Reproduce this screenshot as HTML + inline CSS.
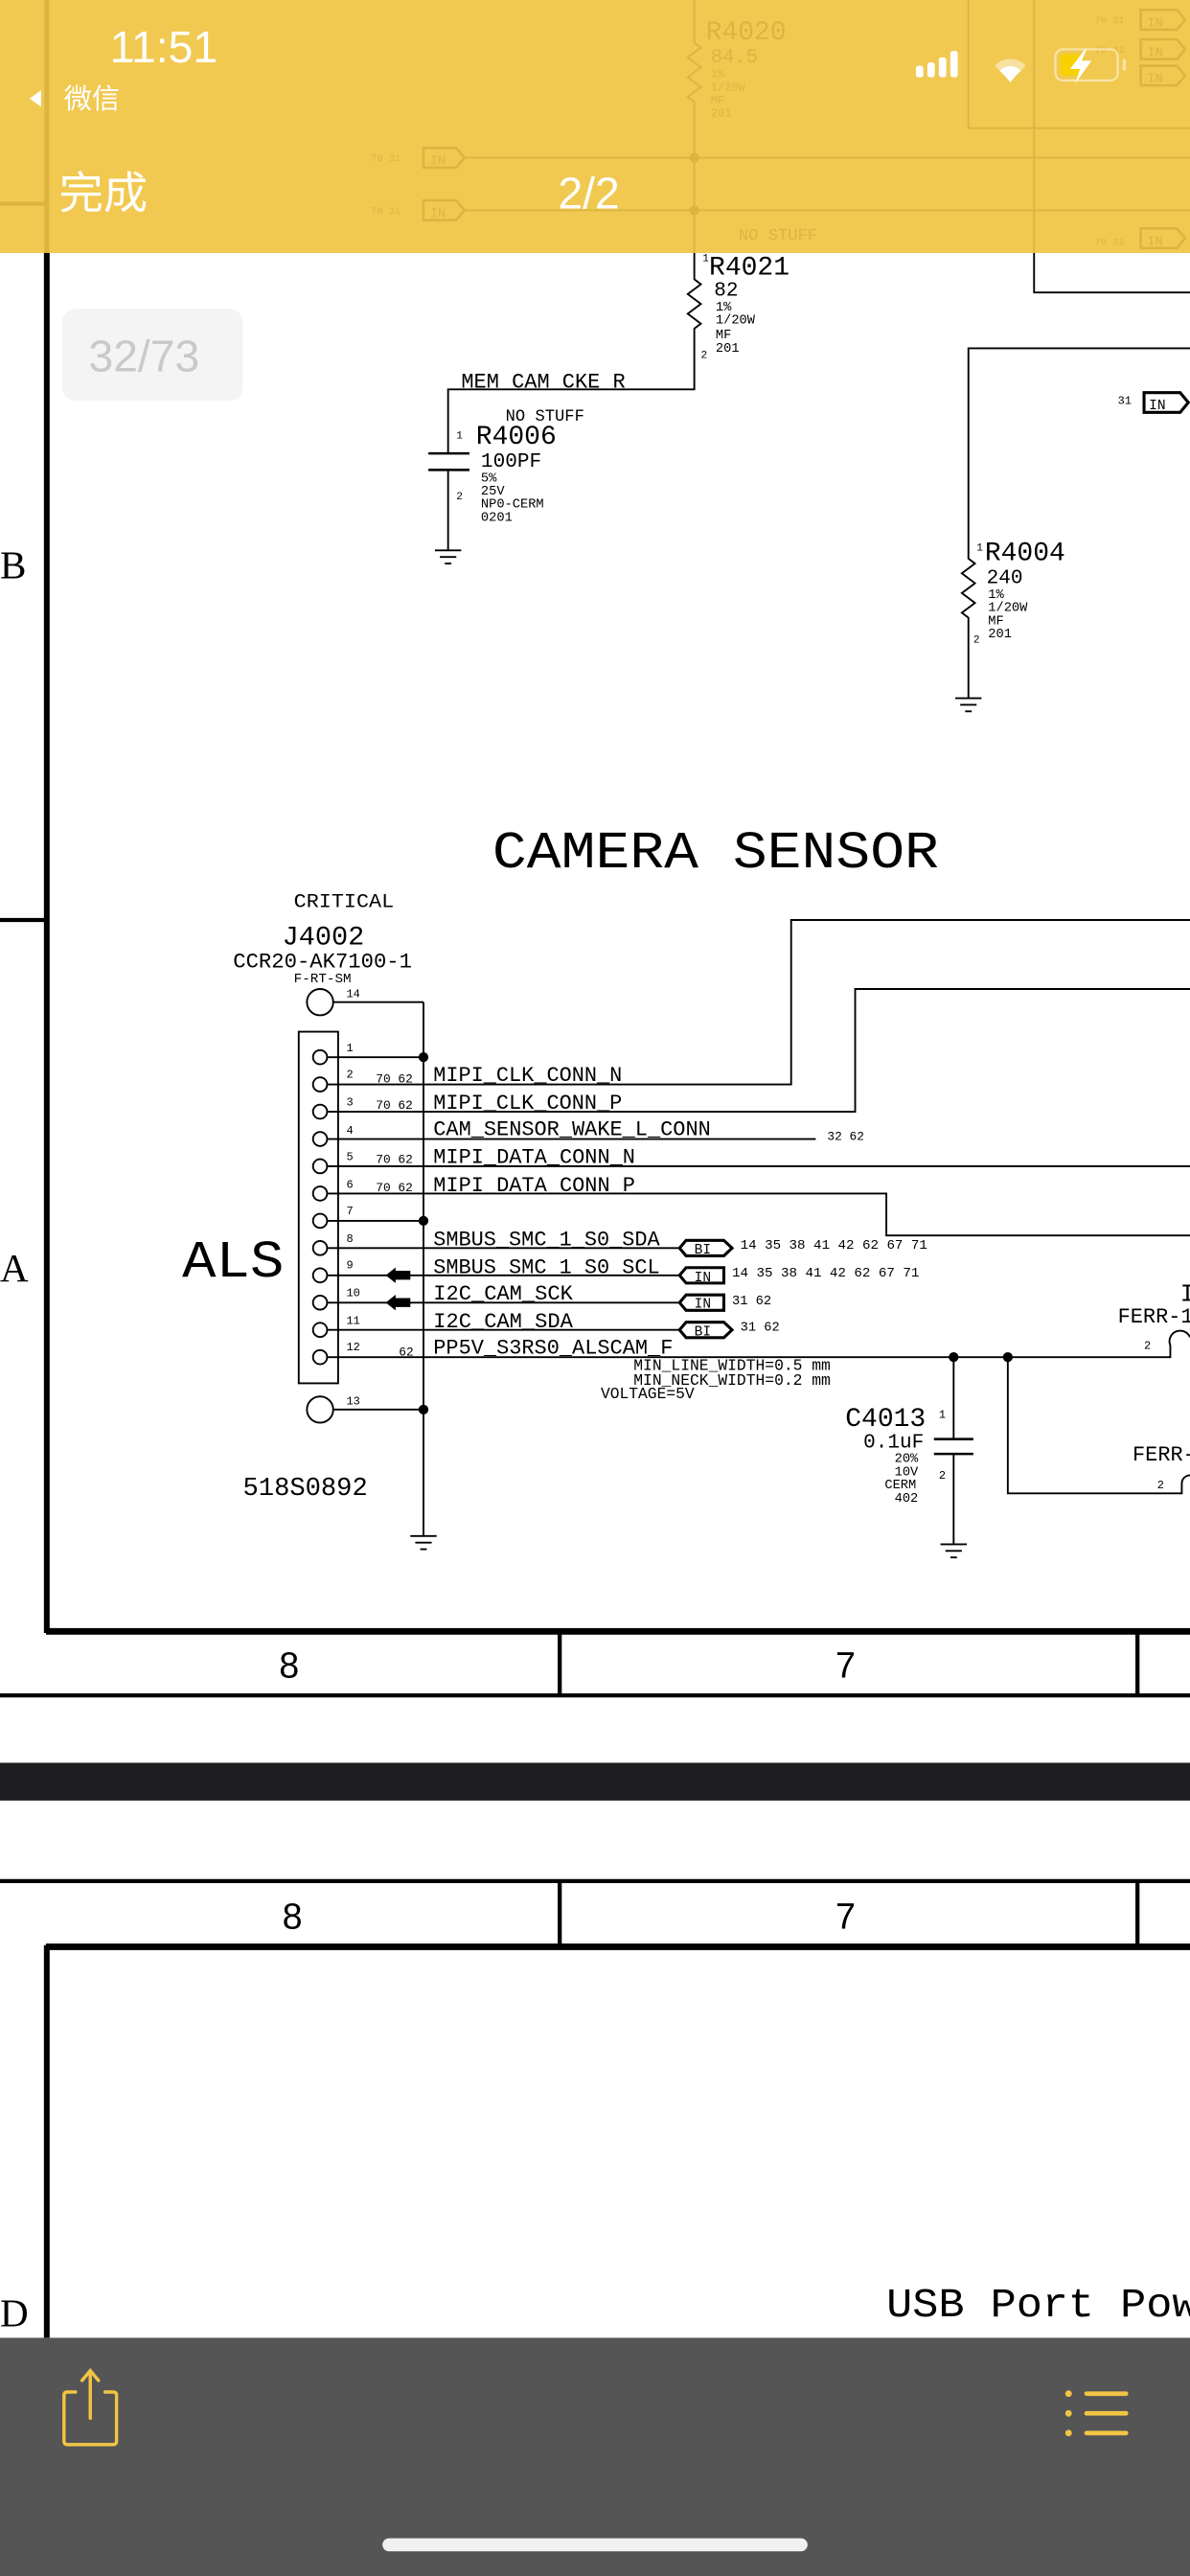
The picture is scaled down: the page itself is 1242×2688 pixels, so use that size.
<!DOCTYPE html>
<html><head><meta charset="utf-8"><style>
html,body{margin:0;padding:0;background:#fff;}
svg{display:block;}
</style></head><body>
<svg width="1242" height="2688" viewBox="0 0 725 1568" preserveAspectRatio="none" xmlns="http://www.w3.org/2000/svg" font-family="'Liberation Mono', monospace">
<rect x="0" y="0" width="725" height="1568" fill="#fff"/>

<g stroke="#000" stroke-width="1.1" fill="none">
  <line x1="28.5" y1="0" x2="28.5" y2="994" stroke-width="3.5"/>
  <line x1="0" y1="560" x2="28" y2="560" stroke-width="2.5"/>
  <line x1="28" y1="993" x2="725" y2="993" stroke-width="4"/>
  <line x1="0" y1="1032" x2="725" y2="1032" stroke-width="2.5"/>
  <line x1="341" y1="993" x2="341" y2="1032" stroke-width="2.5"/>
  <line x1="693" y1="993" x2="693" y2="1032" stroke-width="2.5"/>
  <polyline points="423,150 423,170 427,173 419,179 427,185 419,191 427,197 423,200 423,237 273,237 273,276"/>
  <line x1="261" y1="276" x2="286" y2="276" stroke-width="1.5"/>
  <line x1="261" y1="286" x2="286" y2="286" stroke-width="1.5"/>
  <polyline points="273,286 273,335"/>
  <line x1="265" y1="335" x2="281" y2="335"/><line x1="268" y1="339" x2="278" y2="339"/><line x1="271" y1="343" x2="275" y2="343"/>
  <polyline points="630,150 630,178 725,178"/>
  <polyline points="725,212 590,212 590,340 594,343 586,349 594,355 586,361 594,367 586,373 590,376 590,425"/>
  <line x1="582" y1="425" x2="598" y2="425"/><line x1="585" y1="429" x2="595" y2="429"/><line x1="588" y1="433" x2="592" y2="433"/>
</g>
<g stroke="#000" stroke-width="1.8" fill="#fff">
  <polygon points="697,239 719,239 724,245 719,251 697,251"/>
</g>
<text x="700" y="249" font-size="8.5" fill="#000">IN</text>
<text x="681" y="246" font-size="7" fill="#000">31</text>

<g fill="#000">
<text x="428" y="159" font-size="6.5">1</text>
<text x="432" y="167" font-size="16" textLength="49" lengthAdjust="spacingAndGlyphs">R4021</text>
<text x="435" y="180" font-size="12.3">82</text>
<text x="436" y="189" font-size="8">1%</text>
<text x="436" y="197" font-size="8">1/20W</text>
<text x="436" y="206" font-size="8">MF</text>
<text x="436" y="214" font-size="8">201</text>
<text x="427" y="218" font-size="6.5">2</text>
<text x="281" y="236" font-size="12.8" textLength="100" lengthAdjust="spacingAndGlyphs">MEM_CAM_CKE_R</text>
<text x="308" y="256" font-size="10" textLength="48" lengthAdjust="spacingAndGlyphs">NO STUFF</text>
<text x="278" y="267" font-size="6.5">1</text>
<text x="290" y="270" font-size="16" textLength="49" lengthAdjust="spacingAndGlyphs">R4006</text>
<text x="293" y="284" font-size="12.3">100PF</text>
<text x="293" y="293" font-size="8">5%</text>
<text x="293" y="301" font-size="8">25V</text>
<text x="293" y="309" font-size="8">NP0-CERM</text>
<text x="293" y="317" font-size="8">0201</text>
<text x="278" y="304" font-size="6.5">2</text>
<text x="595" y="335" font-size="6.5">1</text>
<text x="600" y="341" font-size="16" textLength="49" lengthAdjust="spacingAndGlyphs">R4004</text>
<text x="601" y="355" font-size="12.3">240</text>
<text x="602" y="364" font-size="8">1%</text>
<text x="602" y="372" font-size="8">1/20W</text>
<text x="602" y="380" font-size="8">MF</text>
<text x="602" y="388" font-size="8">201</text>
<text x="593" y="391" font-size="6.5">2</text>
<text x="0" y="352" font-size="24" font-family="'Liberation Serif',serif">B</text>
<text x="0" y="780" font-size="24" font-family="'Liberation Serif',serif">A</text>

<text x="300" y="528" font-size="32" textLength="272" lengthAdjust="spacingAndGlyphs">CAMERA SENSOR</text>
<text x="179" y="552" font-size="12" textLength="61" lengthAdjust="spacingAndGlyphs">CRITICAL</text>
<text x="172" y="575" font-size="16" textLength="50" lengthAdjust="spacingAndGlyphs">J4002</text>
<text x="142" y="589" font-size="13" textLength="109" lengthAdjust="spacingAndGlyphs">CCR20-AK7100-1</text>
<text x="179" y="598" font-size="8" textLength="35" lengthAdjust="spacingAndGlyphs">F-RT-SM</text>
<text x="211" y="607" font-size="7">14</text>
<text x="111" y="777" font-size="32" textLength="62" lengthAdjust="spacingAndGlyphs">ALS</text>
<text x="148" y="910" font-size="15.5" textLength="76" lengthAdjust="spacingAndGlyphs">518S0892</text>
<text x="211" y="855" font-size="7">13</text>
</g>

<g stroke="#000" stroke-width="1.1" fill="none">
  <circle cx="195" cy="610" r="8"/>
  <circle cx="195" cy="858" r="8"/>
  <rect x="182" y="628" width="24" height="214"/>
  <line x1="203" y1="610" x2="258" y2="610"/>
  <line x1="203" y1="858" x2="258" y2="858"/>
  <line x1="258" y1="610" x2="258" y2="935"/>
  <line x1="250" y1="935" x2="266" y2="935"/><line x1="253" y1="939" x2="263" y2="939"/><line x1="256" y1="943" x2="260" y2="943"/>
  <g>
    <circle cx="195" cy="643.5" r="4.3"/><circle cx="195" cy="660.1" r="4.3"/><circle cx="195" cy="676.7" r="4.3"/>
    <circle cx="195" cy="693.3" r="4.3"/><circle cx="195" cy="709.9" r="4.3"/><circle cx="195" cy="726.5" r="4.3"/>
    <circle cx="195" cy="743.1" r="4.3"/><circle cx="195" cy="759.7" r="4.3"/><circle cx="195" cy="776.3" r="4.3"/>
    <circle cx="195" cy="792.9" r="4.3"/><circle cx="195" cy="809.5" r="4.3"/><circle cx="195" cy="826.1" r="4.3"/>
  </g>
  <line x1="199" y1="643.5" x2="258" y2="643.5"/>
  <polyline points="199,660.1 482,660.1 482,560 725,560"/>
  <polyline points="199,676.7 521,676.7 521,602 725,602"/>
  <line x1="199" y1="693.3" x2="497" y2="693.3"/>
  <line x1="199" y1="709.9" x2="725" y2="709.9"/>
  <polyline points="199,726.5 540,726.5 540,752 725,752"/>
  <line x1="199" y1="743.1" x2="258" y2="743.1"/>
  <line x1="199" y1="759.7" x2="414" y2="759.7"/>
  <line x1="199" y1="776.3" x2="414" y2="776.3"/>
  <line x1="199" y1="792.9" x2="414" y2="792.9"/>
  <line x1="199" y1="809.5" x2="414" y2="809.5"/>
  <path d="M199,826.1 L713,826.1 L713,819 A6,6 0 0 1 725,814"/>
  <path d="M614,826.1 L614,909 L720,909 L720,903 A5,5 0 0 1 725,898"/>
  <polyline points="581,826.1 581,876"/>
  <line x1="569" y1="876" x2="593" y2="876" stroke-width="1.5"/>
  <line x1="569" y1="885" x2="593" y2="885" stroke-width="1.5"/>
  <polyline points="581,885 581,940"/>
  <line x1="573" y1="940" x2="589" y2="940"/><line x1="576" y1="944" x2="586" y2="944"/><line x1="579" y1="948" x2="583" y2="948"/>
</g>
<g fill="#000">
  <circle cx="258" cy="643.5" r="3"/><circle cx="258" cy="743.1" r="3"/><circle cx="258" cy="858" r="3"/>
  <circle cx="581" cy="826.1" r="3"/><circle cx="614" cy="826.1" r="3"/>
  <polygon points="235,776.3 241,771.5 241,773.5 250,773.5 250,779 241,779 241,781"/>
  <polygon points="235,792.9 241,788.1 241,790.1 250,790.1 250,795.6 241,795.6 241,797.6"/>
</g>
<g stroke="#000" stroke-width="1.8" fill="#fff">
  <polygon points="414,759.7 418,755 441,755 446,759.7 441,764.4 418,764.4"/>
  <polygon points="414,776.3 418,771.6 441,771.6 441,781 418,781"/>
  <polygon points="414,792.9 418,788.2 441,788.2 441,797.6 418,797.6"/>
  <polygon points="414,809.5 418,804.8 441,804.8 446,809.5 441,814.2 418,814.2"/>
</g>
<g fill="#000" font-size="8.5">
  <text x="423" y="763">BI</text><text x="423" y="780">IN</text><text x="423" y="796">IN</text><text x="423" y="813">BI</text>
</g>
<g fill="#000" font-size="7">
  <text x="211" y="640">1</text><text x="211" y="656">2</text><text x="211" y="673">3</text><text x="211" y="690">4</text>
  <text x="211" y="706">5</text><text x="211" y="723">6</text><text x="211" y="739">7</text><text x="211" y="756">8</text>
  <text x="211" y="772">9</text><text x="211" y="789">10</text><text x="211" y="806">11</text><text x="211" y="822">12</text>
  <text x="229" y="659" font-size="7.5">70 62</text><text x="229" y="675" font-size="7.5">70 62</text><text x="229" y="708" font-size="7.5">70 62</text><text x="229" y="725" font-size="7.5">70 62</text>
  <text x="243" y="825" font-size="7.5">62</text>
  <text x="504" y="694" font-size="7.5">32 62</text>
  <text x="451" y="760" font-size="8" textLength="114" lengthAdjust="spacingAndGlyphs">14 35 38 41 42 62 67 71</text>
  <text x="446" y="777" font-size="8" textLength="114" lengthAdjust="spacingAndGlyphs">14 35 38 41 42 62 67 71</text>
  <text x="446" y="794" font-size="8">31 62</text>
  <text x="451" y="810" font-size="8">31 62</text>
  <text x="697" y="821">2</text><text x="705" y="906">2</text>
  <text x="572" y="863">1</text><text x="572" y="900">2</text>
</g>
<g fill="#000" font-size="12.8" lengthAdjust="spacingAndGlyphs">
  <text x="264" y="658" textLength="115" lengthAdjust="spacingAndGlyphs">MIPI_CLK_CONN_N</text>
  <text x="264" y="675" textLength="115" lengthAdjust="spacingAndGlyphs">MIPI_CLK_CONN_P</text>
  <text x="264" y="691" textLength="169" lengthAdjust="spacingAndGlyphs">CAM_SENSOR_WAKE_L_CONN</text>
  <text x="264" y="708" textLength="123" lengthAdjust="spacingAndGlyphs">MIPI_DATA_CONN_N</text>
  <text x="264" y="725" textLength="123" lengthAdjust="spacingAndGlyphs">MIPI_DATA_CONN_P</text>
  <text x="264" y="758" textLength="138" lengthAdjust="spacingAndGlyphs">SMBUS_SMC_1_S0_SDA</text>
  <text x="264" y="775" textLength="138" lengthAdjust="spacingAndGlyphs">SMBUS_SMC_1_S0_SCL</text>
  <text x="264" y="791" textLength="85" lengthAdjust="spacingAndGlyphs">I2C_CAM_SCK</text>
  <text x="264" y="808" textLength="85" lengthAdjust="spacingAndGlyphs">I2C_CAM_SDA</text>
  <text x="264" y="824" textLength="146" lengthAdjust="spacingAndGlyphs">PP5V_S3RS0_ALSCAM_F</text>
  <text x="681" y="805">FERR-1</text>
  <text x="690" y="889">FERR-</text>
  <text x="719" y="792" font-size="15">I</text>
</g>
<g fill="#000" font-size="9.5">
  <text x="386" y="834" textLength="120" lengthAdjust="spacingAndGlyphs">MIN_LINE_WIDTH=0.5 mm</text>
  <text x="386" y="843" textLength="120" lengthAdjust="spacingAndGlyphs">MIN_NECK_WIDTH=0.2 mm</text>
  <text x="366" y="851" textLength="57" lengthAdjust="spacingAndGlyphs">VOLTAGE=5V</text>
  <text x="515" y="868" font-size="16" textLength="49" lengthAdjust="spacingAndGlyphs">C4013</text>
  <text x="526" y="881" font-size="12.3">0.1uF</text>
  <text x="545" y="890" font-size="8">20%</text><text x="545" y="898" font-size="8">10V</text><text x="539" y="906" font-size="8">CERM</text><text x="545" y="914" font-size="8">402</text>
</g>
<g fill="#000" font-size="22" font-family="'Liberation Sans Narrow','Liberation Sans',sans-serif">
  <text x="170" y="1021">8</text><text x="509" y="1021">7</text>
</g>

<rect x="0" y="1073" width="725" height="23" fill="#1e1e20"/>

<g stroke="#000" fill="none">
  <line x1="0" y1="1145" x2="725" y2="1145" stroke-width="2.5"/>
  <line x1="28" y1="1185" x2="725" y2="1185" stroke-width="4"/>
  <line x1="341" y1="1145" x2="341" y2="1185" stroke-width="2.5"/>
  <line x1="693" y1="1145" x2="693" y2="1185" stroke-width="2.5"/>
  <line x1="28.5" y1="1184" x2="28.5" y2="1423" stroke-width="3.5"/>
</g>
<g fill="#000" font-size="22" font-family="'Liberation Sans Narrow','Liberation Sans',sans-serif">
  <text x="172" y="1174">8</text><text x="509" y="1174">7</text>
</g>
<text x="0" y="1416" font-size="24" font-family="'Liberation Serif',serif" fill="#000">D</text>
<text x="540" y="1410" font-size="25" fill="#000" textLength="190" lengthAdjust="spacingAndGlyphs">USB Port Pow</text>

<rect x="0" y="0" width="725" height="154" fill="#f1c951"/>
<g stroke="#dcb441" stroke-width="1.1" fill="none">
  <line x1="28.5" y1="0" x2="28.5" y2="154" stroke-width="3"/>
  <line x1="0" y1="124" x2="28" y2="124" stroke-width="2.5"/>
  <polyline points="423,0 423,26 427,29 419,35 427,41 419,47 427,53 419,59 423,62 423,154"/>
  <line x1="283" y1="96" x2="725" y2="96"/>
  <line x1="283" y1="128" x2="725" y2="128"/>
  <polyline points="590,0 590,78 725,78"/>
  <line x1="630" y1="0" x2="630" y2="154"/>
  <polygon points="258,90 278,90 283,96 278,102 258,102" stroke-width="1.5"/>
  <polygon points="258,122 278,122 283,128 278,134 258,134" stroke-width="1.5"/>
  <polygon points="695,6 717,6 722,12 717,18 695,18" stroke-width="1.5"/>
  <polygon points="695,24 717,24 722,30 717,36 695,36" stroke-width="1.5"/>
  <polygon points="695,40 717,40 722,46 717,52 695,52" stroke-width="1.5"/>
  <polygon points="695,139 717,139 722,145 717,151 695,151" stroke-width="1.5"/>
</g>
<g fill="#dcb441">
  <circle cx="423" cy="96" r="3"/><circle cx="423" cy="128" r="3"/>
  <text x="226" y="98" font-size="6">70 31</text><text x="226" y="130" font-size="6">70 31</text>
  <text x="262" y="100" font-size="8">IN</text><text x="262" y="132" font-size="8">IN</text>
  <text x="430" y="24" font-size="16" textLength="49" lengthAdjust="spacingAndGlyphs">R4020</text>
  <text x="433" y="38" font-size="12">84.5</text>
  <text x="433" y="47" font-size="7">1%</text><text x="433" y="55" font-size="7">1/20W</text>
  <text x="433" y="63" font-size="7">MF</text><text x="433" y="71" font-size="7">201</text>
  <text x="450" y="146" font-size="10">NO STUFF</text>
  <text x="667" y="14" font-size="6">70 31</text><text x="667" y="32" font-size="6">70 31</text>
  <text x="667" y="149" font-size="6">70 31</text>
  <text x="699" y="16" font-size="8">IN</text><text x="699" y="34" font-size="8">IN</text><text x="699" y="50" font-size="8">IN</text><text x="699" y="149" font-size="8">IN</text>
</g>
<g fill="#fff" font-family="'Liberation Sans','Noto Sans CJK SC',sans-serif">
  <text x="67" y="38" font-size="27">11:51</text>
  <polygon points="18,60 25,55 25,65"/>
  <text x="39" y="66" font-size="17">微信</text>
  <text x="36" y="127" font-size="27">完成</text>
  <text x="340" y="127" font-size="27">2/2</text>
</g>
<g fill="#fff">
  <rect x="558" y="40" width="4.5" height="7" rx="1.5"/><rect x="565" y="38" width="4.5" height="9" rx="1.5"/>
  <rect x="572" y="35" width="4.5" height="12" rx="1.5"/><rect x="579" y="31" width="4.5" height="16" rx="1.5"/>
  <path d="M606,40 A13,13 0 0 1 625,40 L622,43 A9,9 0 0 0 609,43 Z" opacity="0.45"/>
  <path d="M609,43 A9,9 0 0 1 622,43 L619,46 A5,5 0 0 0 612,46 Z"/>
  <path d="M612,46 A5,5 0 0 1 619,46 L615.5,50 Z"/>
</g>
<rect x="643" y="30" width="38" height="19" rx="4.5" fill="none" stroke="#fff" stroke-opacity="0.5" stroke-width="1.3"/>
<rect x="684" y="36" width="2" height="7" rx="1" fill="#fff" opacity="0.5"/>
<rect x="646" y="33" width="14" height="13" rx="2" fill="#f7d200"/>
<polygon points="661,30 652,42 658,42 655,51 665,37 659,37 662,30" fill="#fff"/>

<rect x="38" y="188" width="110" height="56" rx="8" fill="#f4f4f4"/>
<text x="54" y="226" font-size="27" fill="#c9c9c9" font-family="'Liberation Sans',sans-serif">32/73</text>

<rect x="0" y="1423" width="725" height="145" fill="#555555"/>
<g stroke="#f1c544" stroke-width="2" fill="none" stroke-linecap="round">
  <path d="M46,1456 L41,1456 Q39,1456 39,1458 L39,1486 Q39,1488 41,1488 L69,1488 Q71,1488 71,1486 L71,1458 Q71,1456 69,1456 L64,1456"/>
  <line x1="55" y1="1444" x2="55" y2="1472"/>
  <polyline points="50,1449 55,1443 60,1449"/>
  <line x1="662" y1="1457" x2="686" y2="1457" stroke-width="2.8"/>
  <line x1="662" y1="1469" x2="686" y2="1469" stroke-width="2.8"/>
  <line x1="662" y1="1481" x2="686" y2="1481" stroke-width="2.8"/>
</g>
<g fill="#f1c544"><circle cx="651" cy="1457" r="2"/><circle cx="651" cy="1469" r="2"/><circle cx="651" cy="1481" r="2"/></g>
<rect x="233" y="1545" width="259" height="8" rx="4" fill="#f0f0f0"/>
</svg>
</body></html>
